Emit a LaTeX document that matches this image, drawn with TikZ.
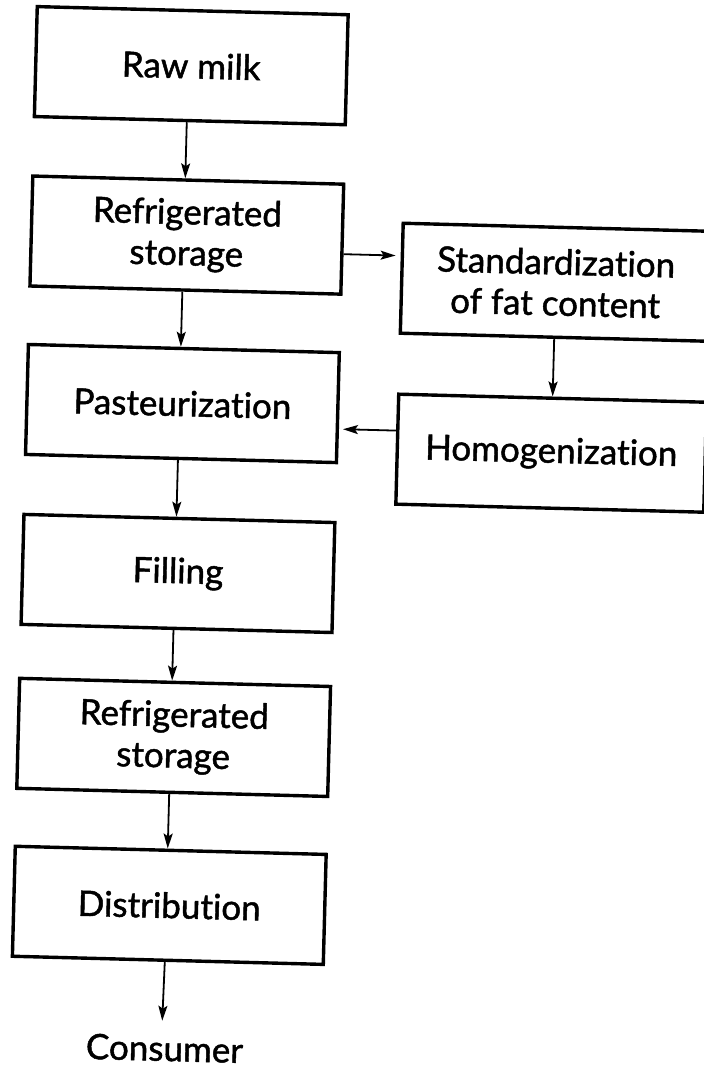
\documentclass[tikz,border=0pt]{standalone}
\usepackage{fontspec}
\setmainfont{Lato}[Ligatures={NoCommon,NoRequired,NoContextual}, FakeBold=1.3]
\usetikzlibrary{arrows.meta}
\begin{document}
\begin{tikzpicture}[x=1pt,y=-1pt,
  stepbox/.style={draw, line width=3.4pt, minimum width=311pt, minimum height=110pt,
    inner sep=0pt, align=center, font=\fontsize{35}{41}\selectfont},
  flow/.style={line width=1.8pt, -{Stealth[length=15pt,width=9pt,inset=3pt]}},
  endtext/.style={inner sep=0pt, text depth=0pt, font=\fontsize{35}{41}\selectfont}]
\fill[white] (0,0) rectangle (704,1072);
\useasboundingbox (0,0) rectangle (704,1072);
\clip (0,0) rectangle (704,1072);
\begin{scope}[rotate around={-1.5:(352,536)}, transform shape]
  \node[stepbox] (raw)  at (179,70)    {Raw milk};
  \node[stepbox] (ref1) at (179,239.5) {Refrigerated\\storage};
  \node[stepbox] (past) at (179,408)   {Pasteurization};
  \node[stepbox] (fill) at (179,578)   {Filling};
  \node[stepbox] (ref2) at (179,742)   {Refrigerated\\storage};
  \node[stepbox] (dist) at (179,910)   {Distribution};
  \node[endtext] (cons) at (178,1053)  {Consumer};
  \node[stepbox, minimum width=308pt] (std) at (549,277) {Standardization\\of fat content};
  \node[stepbox, minimum width=308pt] (hom) at (549,448) {Homogenization};

  \draw[flow] ([xshift=-3pt]raw.south)  -- ([xshift=-3pt]ref1.north);
  \draw[flow] ([xshift=-3pt]ref1.south) -- ([xshift=-3pt]past.north);
  \draw[flow] ([xshift=-3pt]past.south) -- ([xshift=-3pt]fill.north);
  \draw[flow] ([xshift=-3pt]fill.south) -- ([xshift=-3pt]ref2.north);
  \draw[flow] ([xshift=-3pt]ref2.south) -- ([xshift=-3pt]dist.north);
  \draw[flow] ([xshift=-3pt]dist.south) -- ([xshift=-3pt,yshift=14.5pt]cons.north);
  \draw[flow] ([yshift=-15pt]ref1.east) -- ([xshift=-5pt,yshift=22.5pt]std.west);
  \draw[flow] (std.south) -- (hom.north);
  \draw[flow] ([yshift=18.5pt]hom.west) -- ([xshift=4pt,yshift=-21.5pt]past.east);
\end{scope}
\end{tikzpicture}
\end{document}
